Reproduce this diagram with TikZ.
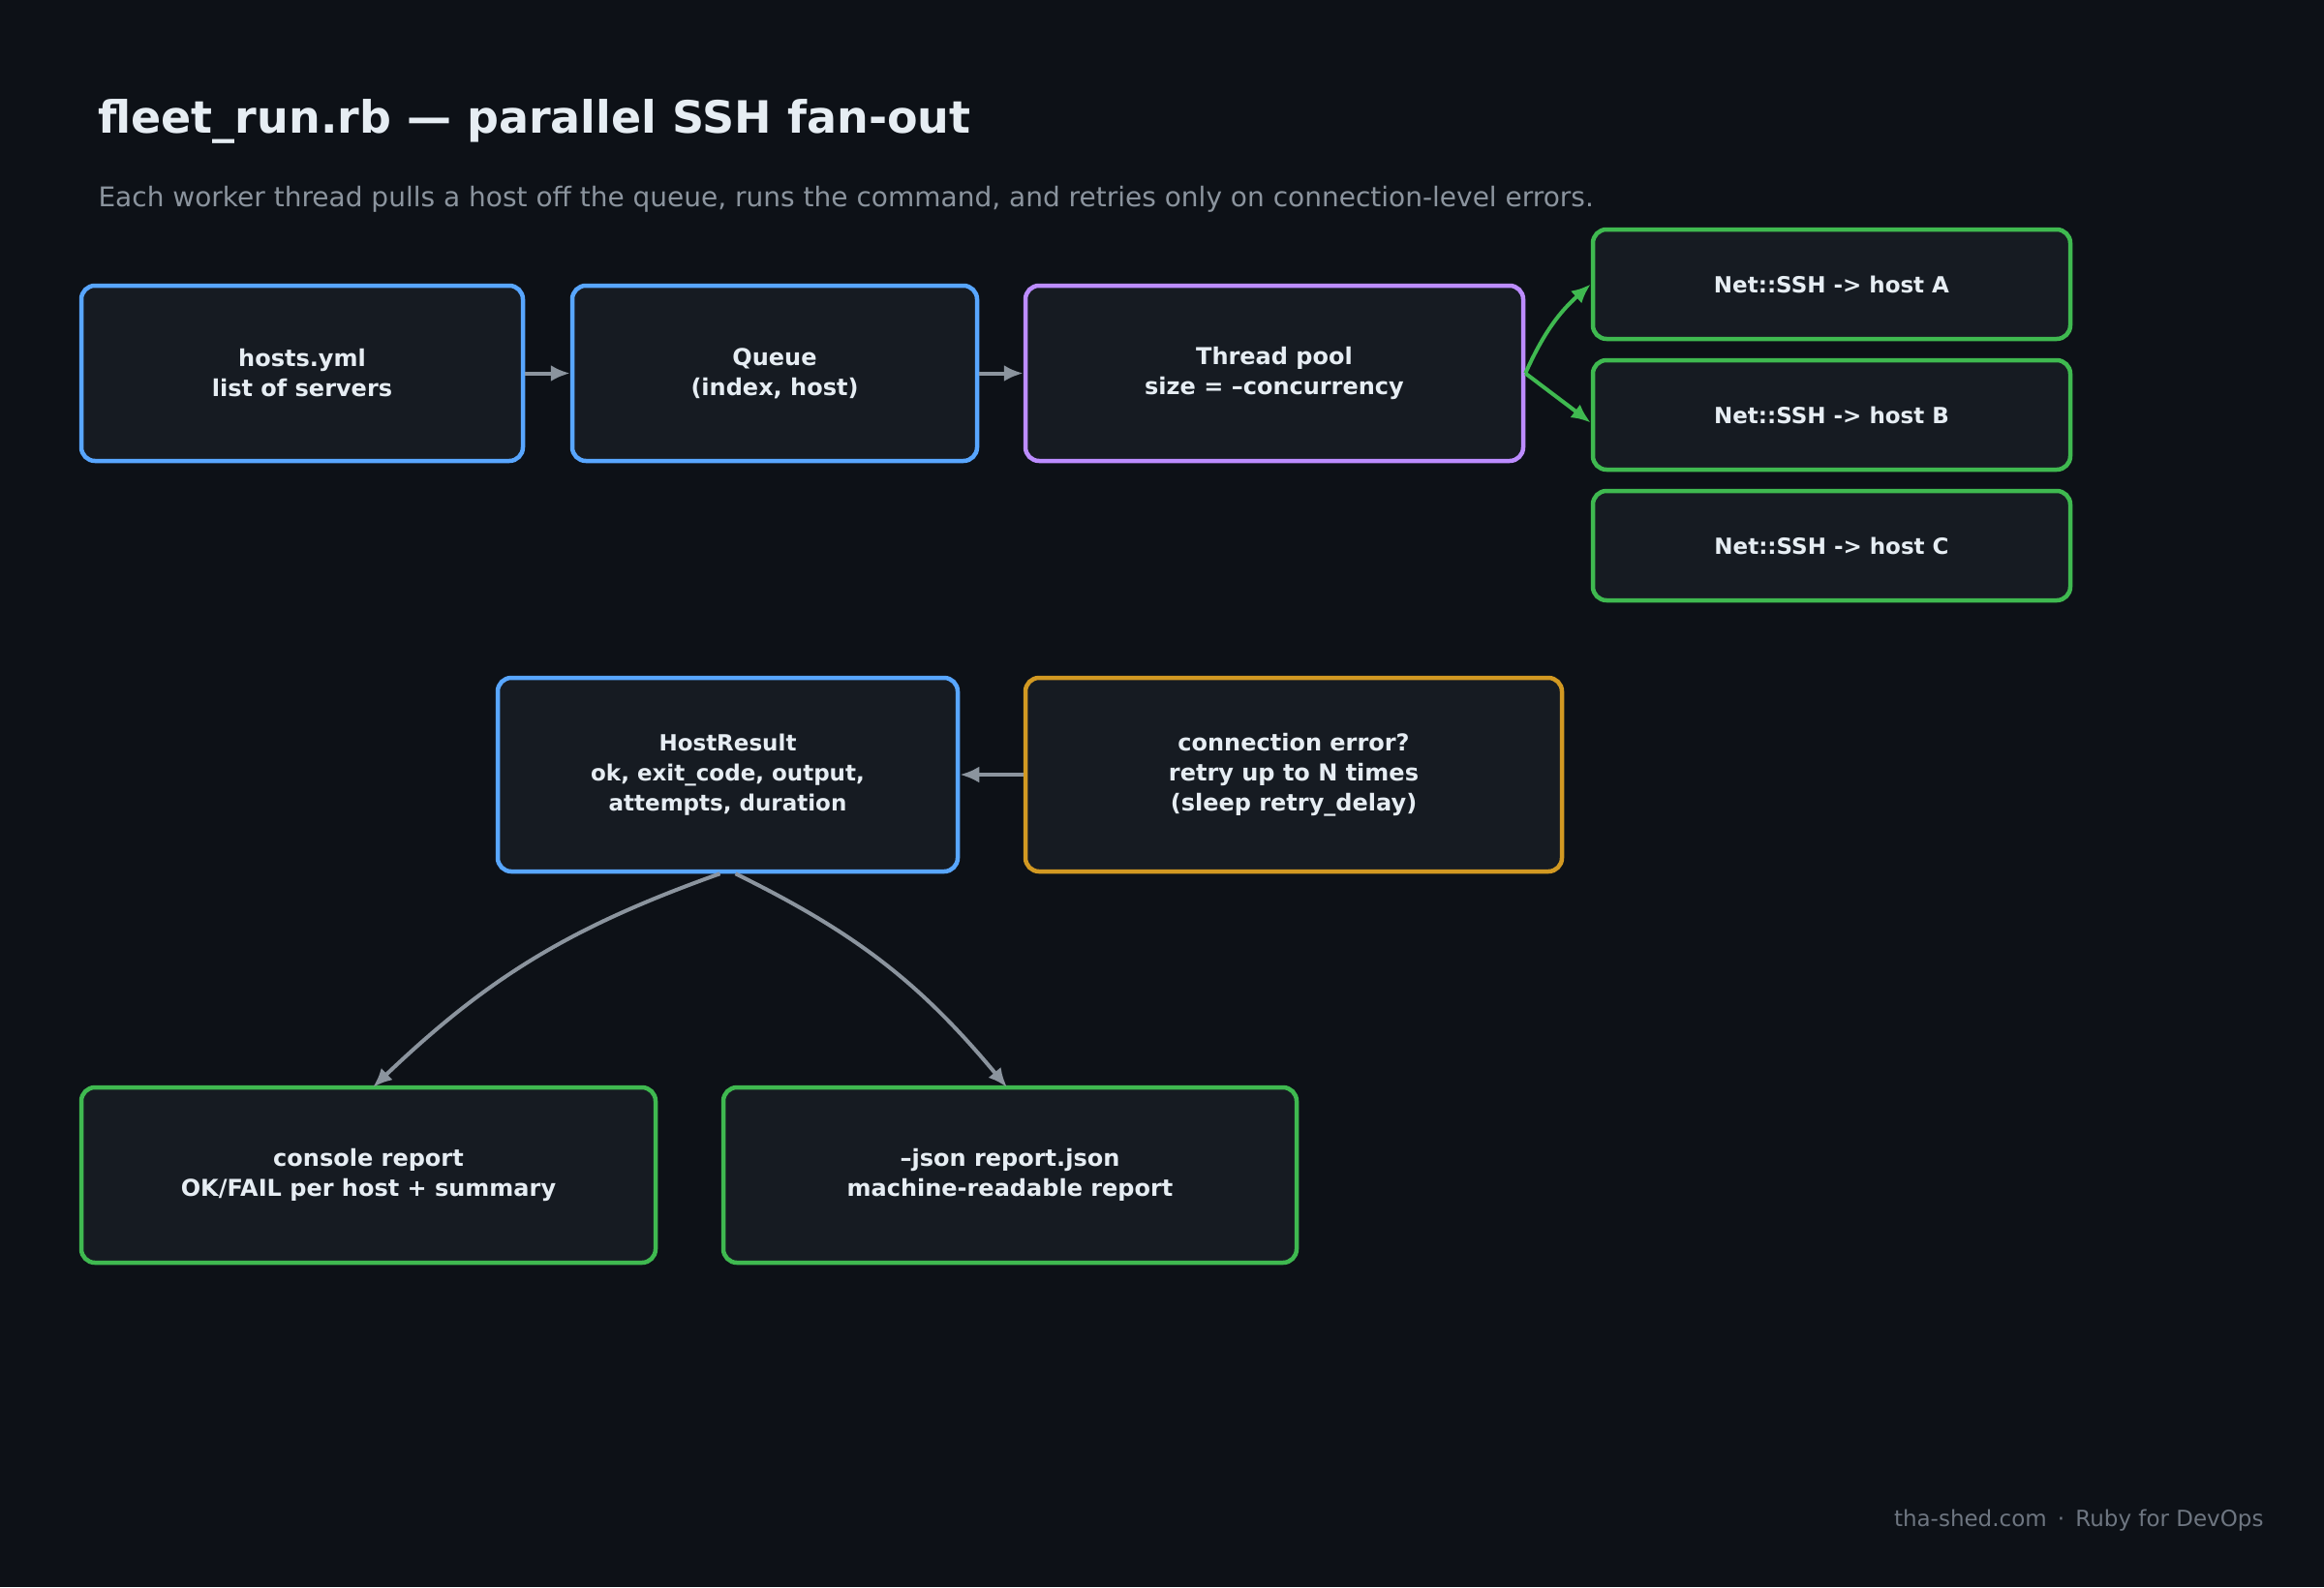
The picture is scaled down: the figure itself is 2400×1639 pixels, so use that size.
\documentclass[tikz,border=0pt]{standalone}
\usepackage{fontspec}
\setmainfont{DejaVu Sans}
\usetikzlibrary{arrows.meta,backgrounds}
\definecolor{bg}{HTML}{0D1117}
\definecolor{boxfill}{HTML}{161B22}
\definecolor{cblue}{HTML}{58A6FF}
\definecolor{cpurple}{HTML}{BC8CFF}
\definecolor{cgreen}{HTML}{3FB950}
\definecolor{corange}{HTML}{D29922}
\definecolor{cgray}{HTML}{8B949E}
\definecolor{ctext}{HTML}{E6EDF3}
\definecolor{cfoot}{HTML}{6E7681}
\begin{document}
\begin{tikzpicture}[x=1pt,y=-1pt,
  box/.style={draw, line width=4.5pt, rounded corners=14pt, fill=boxfill, text=ctext,
    font=\fontsize{24}{31}\selectfont\bfseries, align=center, inner sep=0pt},
  garrow/.style={draw=cgray, line width=4pt, -{Latex[length=20pt,width=17pt]}},
  grarrow/.style={draw=cgreen, line width=4pt, -{Latex[length=20pt,width=17pt]}}]
\fill[bg] (0,0) rectangle (2400,1639);
\useasboundingbox (0,0) rectangle (2400,1639);
\node[anchor=base west, text=ctext, font=\fontsize{46}{50}\selectfont\bfseries] (title) at (98,137) {fleet\_run.rb — parallel SSH fan-out};
\node[anchor=base west, text=cgray, font=\fontsize{28}{32}\selectfont] (sub) at (98,213) {Each worker thread pulls a host off the queue, runs the command, and retries only on connection-level errors.};
\node[anchor=base east, text=cfoot, font=\fontsize{23}{28}\selectfont] (foot) at (2341,1576) {tha-shed.com \,·\, Ruby for DevOps};

\node[box, draw=cblue, minimum width=456pt, minimum height=181pt] (hosts) at (312,385.5) {hosts.yml\\list of servers};
\node[box, draw=cblue, minimum width=418pt, minimum height=181pt] (queue) at (800,385.5) {Queue\\(index, host)};
\node[box, draw=cpurple, minimum width=514pt, minimum height=181pt] (pool) at (1316,385.5) {Thread pool\\size = --concurrency};
\node[box, draw=cgreen, minimum width=493pt, minimum height=113pt, font=\fontsize{23}{28}\selectfont\bfseries] (ha) at (1891.5,293.5) {Net::SSH -> host A};
\node[box, draw=cgreen, minimum width=493pt, minimum height=113pt, font=\fontsize{23}{28}\selectfont\bfseries] (hb) at (1891.5,428.5) {Net::SSH -> host B};
\node[box, draw=cgreen, minimum width=493pt, minimum height=113pt, font=\fontsize{23}{28}\selectfont\bfseries] (hc) at (1891.5,563.5) {Net::SSH -> host C};
\node[box, draw=cblue, minimum width=475pt, minimum height=200pt, font=\fontsize{23}{31}\selectfont\bfseries] (res) at (751.5,800) {HostResult\\ok, exit\_code, output,\\attempts, duration};
\node[box, draw=corange, minimum width=554pt, minimum height=200pt] (retry) at (1336,800) {connection error?\\retry up to N times\\(sleep retry\_delay)};
\node[box, draw=cgreen, minimum width=593pt, minimum height=181pt] (cons) at (380.5,1213.5) {console report\\OK/FAIL per host + summary};
\node[box, draw=cgreen, minimum width=592pt, minimum height=181pt] (json) at (1043,1213.5) {--json report.json\\machine-readable report};

\coordinate (bbot) at (1878,487);
\coordinate (rtop) at (1345,700);
\begin{scope}[on background layer]
\fill[bg] (0,0) rectangle (2400,1639);
\draw[grarrow] (pool.east) .. controls (1700,410) and (1860,560) .. (bbot);
\draw[garrow] (bbot) -- (rtop);
\end{scope}
\draw[garrow] (hosts.east) -- (queue.west);
\draw[garrow] (queue.east) -- (pool.west);
\draw[grarrow] (pool.east) to[bend left=12] (ha.west);
\draw[grarrow] (pool.east) -- ([yshift=-8pt]hb.west);
\draw[garrow] (retry.west) -- (res.east);
\draw[garrow] ([xshift=-8pt]res.south) to[bend right=12] (385,1123);
\draw[garrow] ([xshift=8pt]res.south) to[bend left=12] (1040,1123);
\end{tikzpicture}
\end{document}
